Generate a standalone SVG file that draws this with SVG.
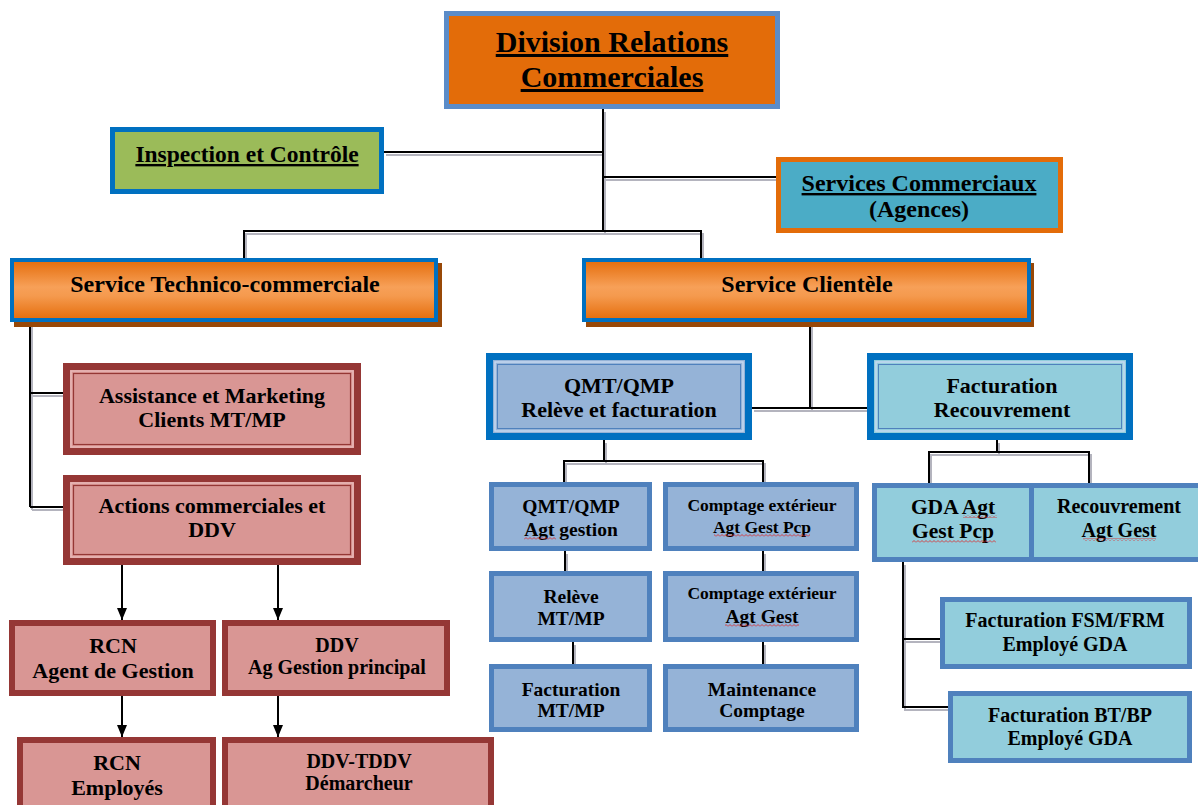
<svg xmlns="http://www.w3.org/2000/svg" width="1198" height="805" viewBox="0 0 1198 805" font-family="'Liberation Serif', 'DejaVu Serif', serif">
<defs>
<linearGradient id="gOrange" x1="0" y1="0" x2="0" y2="1">
<stop offset="0" stop-color="#E46C0A"/>
<stop offset="0.45" stop-color="#F7A058"/>
<stop offset="0.6" stop-color="#F59A4E"/>
<stop offset="1" stop-color="#E46C0A"/>
</linearGradient>
<pattern id="wavy" x="0" y="0" width="4" height="3" patternUnits="userSpaceOnUse">
<path d="M0 2.5 L2 0.5 L4 2.5" fill="none" stroke="#E02020" stroke-width="0.8"/>
</pattern>
<marker id="arr" viewBox="0 0 12 10" refX="12" refY="5" markerWidth="12" markerHeight="10" markerUnits="userSpaceOnUse" orient="auto">
<path d="M0 0 L12 5 L0 10 Z" fill="#000"/>
</marker>
<style>
text{font-family:'Liberation Serif','DejaVu Serif',serif;font-weight:bold;fill:#000;text-anchor:middle}
.u{text-decoration:underline}
.ln{fill:none;stroke:#000;stroke-width:2}
.sh{fill:none;stroke:#B4B4BE;stroke-width:2}
.wv{fill:url(#wavy)}
.redOuter{fill:#D99694;stroke:#953735;stroke-width:7}
.redIn{fill:none;stroke:#953735;stroke-width:1.2}
.redLight{fill:none;stroke:#E8B8B7;stroke-width:1.5}
.red{fill:#D99694;stroke:#953735;stroke-width:6}
.bluMain{fill:#95B3D7;stroke:#0070C0;stroke-width:7}
.cyMain{fill:#92CDDC;stroke:#0070C0;stroke-width:7}
.inL{fill:none;stroke:#C6D9F1;stroke-width:1.5}
.inD{fill:none;stroke:#4F81BD;stroke-width:1}
.blu{fill:#95B3D7;stroke:#4F81BD;stroke-width:5}
.cy{fill:#92CDDC;stroke:#4F81BD;stroke-width:5}
</style>
</defs>
<rect width="1198" height="805" fill="#fff"/>

<g id="connectors">
<g transform="translate(2,3)">
<path class="sh" d="M603 109 V231"/>
<path class="sh" d="M384 152 H603"/>
<path class="sh" d="M603 177 H776"/>
<path class="sh" d="M244 258 V231 H701 V258"/>
<path class="sh" d="M30 322 V507 M30 393 H63 M30 507 H63"/>
<path class="sh" d="M810 322 V408 M752 408 H867"/>
<path class="sh" d="M604 440 V461 M564 482 V461 H763 V482"/>
<path class="sh" d="M565 551 V571 M573 642 V664 M763 551 V571 M763 642 V664"/>
<path class="sh" d="M997 440 V452 M929 483 V452 H1089 V483"/>
<path class="sh" d="M903 562 V707 H948 M903 639 H940"/>
</g>
<path class="ln" d="M603 109 V231"/>
<path class="ln" d="M384 152 H603"/>
<path class="ln" d="M603 177 H776"/>
<path class="ln" d="M244 258 V231 H701 V258"/>
<path class="ln" d="M30 322 V507 M30 393 H63 M30 507 H63"/>
<path class="ln" d="M810 322 V408 M752 408 H867"/>
<path class="ln" d="M604 440 V461 M564 482 V461 H763 V482"/>
<path class="ln" d="M565 551 V571 M573 642 V664 M763 551 V571 M763 642 V664"/>
<path class="ln" d="M997 440 V452 M929 483 V452 H1089 V483"/>
<path class="ln" d="M903 562 V707 H948 M903 639 H940"/>
<path class="ln" d="M122 565 V620" marker-end="url(#arr)"/>
<path class="ln" d="M278 565 V620" marker-end="url(#arr)"/>
<path class="ln" d="M122 696 V737" marker-end="url(#arr)"/>
<path class="ln" d="M278 696 V737" marker-end="url(#arr)"/>
</g>

<g id="division">
<rect x="446.5" y="13.5" width="331" height="93" fill="#E36C09" stroke="#5B8CC8" stroke-width="5"/>
<text x="612" y="52" font-size="30" class="u">Division Relations</text>
<text x="612" y="87" font-size="30" class="u">Commerciales</text>
</g>

<g id="inspection">
<rect x="112.5" y="129.5" width="269" height="62" fill="#9BBB59" stroke="#0070C0" stroke-width="5"/>
<text x="247" y="162" font-size="23.5" class="u">Inspection et Contrôle</text>
</g>

<g id="services-commerciaux">
<rect x="778.5" y="159.5" width="282" height="71" fill="#4BACC6" stroke="#E36C09" stroke-width="5"/>
<text x="919" y="191" font-size="24" class="u">Services Commerciaux</text>
<text x="919" y="217" font-size="24">(Agences)</text>
</g>

<g id="service-technico">
<rect x="14" y="263" width="428" height="64" fill="#984807"/>
<rect x="12" y="260" width="424" height="60" fill="url(#gOrange)" stroke="#0070C0" stroke-width="4"/>
<text x="225" y="292" font-size="24">Service Technico-commerciale</text>
</g>

<g id="service-clientele">
<rect x="586" y="263" width="448" height="64" fill="#984807"/>
<rect x="584" y="260" width="445" height="60" fill="url(#gOrange)" stroke="#0070C0" stroke-width="4"/>
<text x="807" y="292" font-size="24">Service Clientèle</text>
</g>

<g id="assistance">
<rect class="redOuter" x="66.5" y="366.5" width="291" height="85"/>
<rect class="redLight" x="71" y="371" width="282" height="76"/>
<rect class="redIn" x="73.5" y="373.5" width="277" height="71"/>
<text x="212" y="403" font-size="22">Assistance et Marketing</text>
<text x="212" y="427" font-size="22">Clients MT/MP</text>
</g>

<g id="actions">
<rect class="redOuter" x="66.5" y="478.5" width="291" height="83"/>
<rect class="redLight" x="71" y="483" width="282" height="74"/>
<rect class="redIn" x="73.5" y="485.5" width="277" height="69"/>
<text x="212" y="513" font-size="22">Actions commerciales et</text>
<text x="212" y="537" font-size="22">DDV</text>
</g>

<g id="rcn-agent">
<rect class="red" x="12" y="623" width="201" height="70"/>
<text x="113" y="653" font-size="22">RCN</text>
<text x="113" y="678" font-size="22">Agent de Gestion</text>
</g>

<g id="ddv-ag">
<rect class="red" x="225" y="623" width="222" height="70"/>
<text x="337" y="652" font-size="20">DDV</text>
<text x="337" y="674" font-size="20">Ag Gestion principal</text>
</g>

<g id="rcn-employes">
<rect class="red" x="20" y="740" width="193" height="75"/>
<text x="117" y="770" font-size="22">RCN</text>
<text x="117" y="795" font-size="22">Employés</text>
</g>

<g id="ddv-tddv">
<rect class="red" x="225" y="740" width="266" height="75"/>
<text x="359" y="768" font-size="20">DDV-TDDV</text>
<text x="359" y="790" font-size="20">Démarcheur</text>
</g>

<g id="qmt-releve">
<rect class="bluMain" x="489.5" y="356.5" width="259" height="80"/>
<rect class="inL" x="495" y="362" width="248" height="69"/>
<rect class="inD" x="497.5" y="364.5" width="243" height="64"/>
<text x="619" y="393" font-size="22">QMT/QMP</text>
<text x="619" y="417" font-size="22">Relève et facturation</text>
</g>

<g id="facturation-recouvrement">
<rect class="cyMain" x="870.5" y="356.5" width="259" height="80"/>
<rect class="inL" x="876" y="362" width="248" height="69"/>
<rect class="inD" x="878.5" y="364.5" width="243" height="64"/>
<text x="1002" y="393" font-size="22">Facturation</text>
<text x="1002" y="417" font-size="22">Recouvrement</text>
</g>

<g id="qmt-agt">
<rect class="blu" x="491.5" y="484.5" width="158" height="64"/>
<text x="571" y="513" font-size="19.5">QMT/QMP</text>
<text x="571" y="536" font-size="19.5">Agt gestion</text>
<rect class="wv" x="524" y="537" width="32" height="3"/>
</g>

<g id="comptage-pcp">
<rect class="blu" x="665.5" y="484.5" width="191" height="64"/>
<text x="762" y="511" font-size="17.5">Comptage extérieur</text>
<text x="762" y="533" font-size="17.5">Agt Gest Pcp</text>
<rect class="wv" x="714" y="534" width="96" height="3"/>
</g>

<g id="releve-mtmp">
<rect class="blu" x="491.5" y="573.5" width="158" height="66"/>
<text x="571" y="603" font-size="19.5">Relève</text>
<text x="571" y="625" font-size="19.5">MT/MP</text>
</g>

<g id="comptage-gest">
<rect class="blu" x="665.5" y="573.5" width="191" height="66"/>
<text x="762" y="599" font-size="17.5">Comptage extérieur</text>
<text x="762" y="623" font-size="19.5">Agt Gest</text>
<rect class="wv" x="725" y="624" width="74" height="3"/>
</g>

<g id="facturation-mtmp">
<rect class="blu" x="491.5" y="666.5" width="158" height="63"/>
<text x="571" y="696" font-size="19.5">Facturation</text>
<text x="571" y="717" font-size="19.5">MT/MP</text>
</g>

<g id="maintenance">
<rect class="blu" x="665.5" y="666.5" width="191" height="63"/>
<text x="762" y="696" font-size="19.5">Maintenance</text>
<text x="762" y="717" font-size="19.5">Comptage</text>
</g>

<g id="gda">
<rect class="cy" x="874.5" y="485.5" width="157" height="74"/>
<text x="953" y="514" font-size="21.5">GDA Agt</text>
<text x="953" y="538" font-size="21.5">Gest Pcp</text>
<rect class="wv" x="963" y="515" width="34" height="3"/>
<rect class="wv" x="912" y="540" width="84" height="3"/>
</g>

<g id="recouvrement">
<rect class="cy" x="1031.5" y="485.5" width="175" height="74"/>
<text x="1119" y="513" font-size="20">Recouvrement</text>
<text x="1119" y="537" font-size="20">Agt Gest</text>
<rect class="wv" x="1083" y="538" width="73" height="3"/>
</g>

<g id="facturation-fsm">
<rect class="cy" x="942.5" y="599.5" width="247" height="67"/>
<text x="1065" y="627" font-size="20">Facturation FSM/FRM</text>
<text x="1065" y="651" font-size="20">Employé GDA</text>
</g>

<g id="facturation-btbp">
<rect class="cy" x="950.5" y="693.5" width="239" height="67"/>
<text x="1070" y="722" font-size="20">Facturation BT/BP</text>
<text x="1070" y="745" font-size="20">Employé GDA</text>
</g>
</svg>
